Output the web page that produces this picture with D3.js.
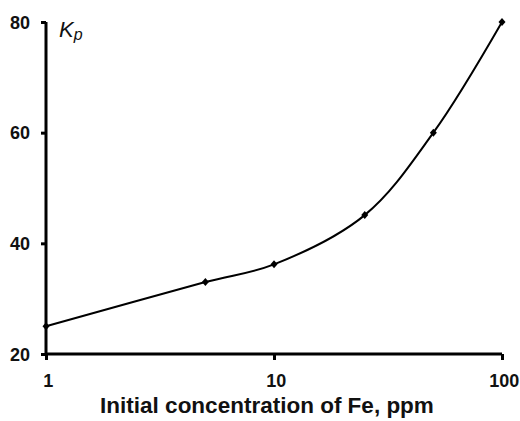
<!DOCTYPE html>
<html>
<head>
<meta charset="utf-8">
<script src="https://cdn.jsdelivr.net/npm/d3@7"></script>
<style>
  body { margin: 0; background: #fff; }
  svg { display: block; }
  .tick text { font-family: "Liberation Sans", Arial, sans-serif; font-weight: bold; font-size: 18px; fill: #111; }
</style>
</head>
<body>
<script>
// datos
const concentration = [1, 5, 10, 25, 50, 100];
const kp = [25, 33, 36.2, 45.1, 60, 80];
const xTicks = [1, 10, 100];
const yTicks = [20, 40, 60, 80];

const svgWidth = 520, svgHeight = 421;
const margin = { top: 22, right: 18, bottom: 67, left: 46 };
const width = svgWidth - margin.left - margin.right;
const height = svgHeight - margin.top - margin.bottom;

const svg = d3.select("body").append("svg")
    .attr("width", svgWidth)
    .attr("height", svgHeight);

const g = svg.append("g")
    .attr("transform", "translate(" + margin.left + "," + margin.top + ")");

const x = d3.scaleLog().domain([1, 100]).range([0, width]);
const y = d3.scaleLinear().domain([20, 80]).range([height, 0]);

// ejes
const xAxis = g.append("g")
    .attr("transform", "translate(0," + height + ")")
    .call(d3.axisBottom(x).tickValues(xTicks).tickFormat(d3.format("d")).tickSize(6).tickPadding(10));

const yAxis = g.append("g")
    .call(d3.axisLeft(y).tickValues(yTicks).tickSize(5).tickPadding(11));

[xAxis, yAxis].forEach(a => {
    a.select(".domain").attr("stroke", "#000").attr("stroke-width", 3);
    a.selectAll(".tick line").attr("stroke", "#000").attr("stroke-width", 3);
});
xAxis.select(".domain").attr("d", "M0,0H" + width);
yAxis.select(".domain").attr("d", "M0," + height + "V0");
xAxis.selectAll(".tick text").attr("dy", "0.95em").attr("dx", "0.1em");
yAxis.selectAll(".tick text").attr("dy", "0.35em");

// curva suavizada
const pts = concentration.map((c, i) => [c, kp[i]]);
const line = d3.line()
    .x(d => x(d[0]))
    .y(d => y(d[1]))
    .curve(d3.curveCatmullRom.alpha(0.5));

g.append("path")
    .datum(pts)
    .attr("fill", "none")
    .attr("stroke", "#000")
    .attr("stroke-width", 2)
    .attr("d", line);

// marcadores en rombo
g.selectAll(".pt")
    .data(pts)
    .enter().append("path")
    .attr("class", "pt")
    .attr("transform", d => "translate(" + x(d[0]) + "," + y(d[1]) + ")")
    .attr("d", "M0,-4L3.5,0L0,4L-3.5,0Z")
    .attr("fill", "#000");

// etiquetas
svg.append("text")
    .attr("x", 267)
    .attr("y", 413)
    .attr("text-anchor", "middle")
    .style("font-family", "Liberation Sans, Arial, sans-serif")
    .style("font-weight", "bold")
    .style("font-size", "22.5px")
    .attr("fill", "#111")
    .text("Initial concentration of Fe, ppm");

const kLabel = svg.append("text")
    .attr("x", 59)
    .attr("y", 37)
    .style("font-family", "Liberation Sans, Arial, sans-serif")
    .style("font-style", "italic")
    .style("font-size", "22px")
    .attr("fill", "#111");
kLabel.append("tspan").text("K");
kLabel.append("tspan").attr("dy", 3).style("font-size", "16px").text("p");
</script>
</body>
</html>
